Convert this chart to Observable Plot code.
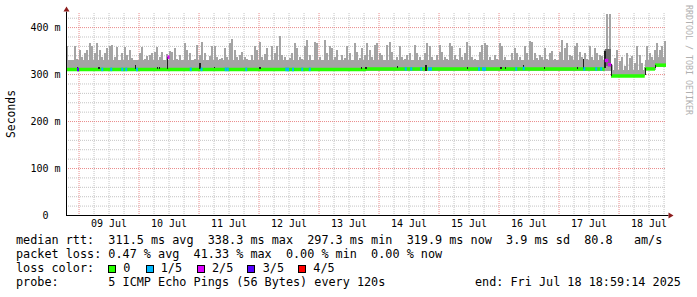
<!DOCTYPE html>
<html><head><meta charset="utf-8">
<script src="https://cdn.jsdelivr.net/npm/d3@7"></script>
<script src="https://cdn.jsdelivr.net/npm/@observablehq/plot@0.6"></script>
<style>
body{margin:0;background:#fff}
#wrap{position:relative;width:697px;height:297px;background:#fff;overflow:hidden;font-family:"DejaVu Sans Mono",monospace}
#chart{position:absolute;left:0;top:0}
.t{position:absolute;white-space:pre;font-size:11.8px;line-height:14px;color:#000}
.box{position:absolute;width:6px;height:6px;border:1px solid #000}
#ylab{position:absolute;left:11px;top:113.5px;transform:translate(-50%,-50%) rotate(-90deg);font-size:11.4px;white-space:pre}
#credit{position:absolute;left:684px;top:5px;writing-mode:vertical-rl;font-size:8.3px;color:#b0b0b0;white-space:pre}
</style></head>
<body><div id="wrap"><div id="chart"></div></div>
<script>
// ---- data ----
const startTime = "2025-07-08T18:59:14Z";
const endTime = "2025-07-18T18:59:14Z";
// hourly max of the ping smoke (ms)
const smokeMax = [
360,330,328,360,333,352,337,345,352,366,359,344,367,351,337,344,355,360,361,337,357,330,344,357,
340,351,334,326,330,344,358,332,338,340,344,348,357,337,348,329,342,350,348,355,333,340,329,366,
351,345,330,332,362,340,369,344,331,338,359,359,337,333,334,356,337,366,374,351,337,341,348,337,
333,330,340,359,352,369,336,342,355,331,359,345,360,381,340,336,329,334,345,366,355,337,332,359,
373,341,330,369,366,337,330,373,344,359,355,337,351,330,341,334,359,344,331,366,348,335,355,340,
366,351,337,362,366,345,341,330,362,369,348,330,337,359,337,332,341,344,331,362,344,337,330,345,
366,359,337,331,340,362,348,337,333,366,359,341,333,355,337,344,369,359,337,333,330,348,362,366,
362,337,330,340,333,366,359,337,331,328,344,355,345,337,331,359,344,371,369,345,335,341,337,355,
333,345,350,333,330,348,373,355,366,341,338,359,366,348,337,344,333,359,337,355,344,340,338,352,
428,428,320,334,351,327,337,318,344,334,339,323,359,340,323,316,359,345,337,352,366,351,359,371
];
// dense smoke band (runs: hour offset from start -> ms)
const smokeFloorStart = [0, 218, 231.5, 235.6];
const smokeFloorValue = [329, 309, 330, 336];
// smoke minimum (runs)
const smokeMinStart = [0, 218, 231.5, 235.6];
const smokeMinValue = [306, 296, 309, 316];
// median rtt (runs)
const medianStart = [0, 120, 215.5, 216.7, 218, 231.5, 235.6];
const medianValue = [311, 312, 330, 321, 297, 312, 320];
// darker smoke
const midSmokeStart = [215.4];
const midSmokeEnd = [218];
const midSmokeLow = [318];
const midSmokeHigh = [353];
// dense (black) smoke columns
const darkHour = [4.4,12.6,13.2,27.5,36.4,37.2,40.4,53.3,59.0,77.3,118.0,119.7,132.4,143.7,160.4,173.7,175.5,182.7,191.1,204.4,206.7,215.3,217.9,231.4,235.5];
const darkLow  = [309,310,310,310,311,311,310,311,312,311,310,311,312,306,311,311,311,312,311,311,310,312,296,297,312];
const darkHigh = [314,314,314,320,315,315,337,324,316,315,316,315,318,320,315,315,316,320,315,315,332,350,321,312,320];
// loss events on the median (hour offset, ms, lost pings of 5)
const lossHour  = [4.4,14.1,17.7,22.1,23.7,28,40.6,49.5,53.8,63.5,64.3,71.7,87.7,88.4,90.4,94.1,97.1,135.5,137.7,141.7,144.8,145.6,164.8,166.4,167.2,179.7,182.7,206.9,211.7,213.7,215.5,216.1,216.7,217.3];
const lossValue = [311,311,311,311,311,311,337,311,311,311,311,311,311,311,311,311,311,312,312,312,312,312,312,312,312,312,313,312,312,312,330,330,321,321];
const lossLevel = [3,1,1,1,1,1,2,1,1,1,1,1,1,1,1,1,1,1,1,1,1,1,1,1,1,1,1,1,1,1,2,2,2,2];
const lossColors = ["#26ff00","#00b8ff","#dd00ff","#5500ff","#ff0000"];
const lossLabels = ["0","1/5","2/5","3/5","4/5"];
const yTicks = [0,100,200,300,400];
const rttLine = "median rtt:  311.5 ms avg  338.3 ms max  297.3 ms min  319.9 ms now  3.9 ms sd  80.8   am/s";
const lossLine = "packet loss: 0.47 % avg  41.33 % max  0.00 % min  0.00 % now";
const colorLabel = "loss color:";
const probeLine = "probe:       5 ICMP Echo Pings (56 Bytes) every 120s";
const endText = "end: Fri Jul 18 18:59:14 2025";

// ---- build ----
const start = new Date(startTime), end = new Date(endTime);
const H = 3600e3;
const at = h => new Date(start.getTime() + h * H);
const runAt = (starts, vals, h) => { let v = vals[0]; starts.forEach((s, i) => { if (h >= s) v = vals[i]; }); return v; };

const floor = smokeFloorStart.map((h, i) => ({x1: at(h), x2: at(i + 1 < smokeFloorStart.length ? smokeFloorStart[i + 1] : 240), y1: smokeMinValue[i], y2: smokeFloorValue[i]}));
const spikes = smokeMax.map((v, i) => ({x1: at(i + 0.15), x2: at(i + 0.85), y1: runAt(smokeMinStart, smokeMinValue, i + 0.5), y2: v}));
const midSmoke = midSmokeStart.map((h, i) => ({x1: at(h), x2: at(midSmokeEnd[i]), y1: midSmokeLow[i], y2: midSmokeHigh[i]}));
const medianSegs = medianStart.map((h, i) => ({x1: at(h), x2: at(i + 1 < medianStart.length ? medianStart[i + 1] : 240), y: medianValue[i]}));
const dark = darkHour.map((h, i) => ({x1: at(h), x2: at(h + 0.5), y1: darkLow[i], y2: darkHigh[i]}));
const loss = lossHour.map((h, i) => ({x1: at(h), x2: at(h + 0.8), y: lossValue[i], c: lossColors[lossLevel[i]]}));

const yMinor = d3.range(20, 440, 20).filter(v => v % 100 !== 0);
const yMajor = d3.range(100, 500, 100);
const hours6 = d3.utcHour.every(6).range(start, end).filter(d => d.getUTCHours() !== 0);
const midnights = d3.utcDay.range(start, end);
const noons = midnights.map(d => d3.utcHour.offset(d, 12)).filter(d => d < end);

const grid = "#c4c4c4", mgrid = "#ea8c8c", smokeGray = "#a4a4a4";
const chart = Plot.plot({
  width: 697, height: 232,
  marginLeft: 66, marginRight: 31, marginTop: 13, marginBottom: 17,
  x: {type: "utc", domain: [start, end]},
  y: {domain: [0, 430]},
  color: {type: "identity"},
  style: {fontFamily: "DejaVu Sans Mono", fontSize: "10px", background: "transparent", color: "#000"},
  marks: [
    Plot.ruleY(yMinor, {stroke: grid, strokeDasharray: "1,1"}),
    Plot.ruleX(hours6, {stroke: grid, strokeDasharray: "1,1"}),
    Plot.ruleY(yMajor, {stroke: mgrid, strokeDasharray: "1,1"}),
    Plot.ruleX(midnights, {stroke: mgrid, strokeDasharray: "1,1"}),
    Plot.rect(floor, {x1: "x1", x2: "x2", y1: "y1", y2: "y2", fill: smokeGray, shapeRendering: "crispEdges"}),
    Plot.rect(spikes, {x1: "x1", x2: "x2", y1: "y1", y2: "y2", fill: smokeGray, shapeRendering: "crispEdges"}),
    Plot.rect(midSmoke, {x1: "x1", x2: "x2", y1: "y1", y2: "y2", fill: "#6e6e6e", shapeRendering: "crispEdges"}),
    Plot.ruleY(medianSegs, {y: "y", x1: "x1", x2: "x2", stroke: lossColors[0], strokeWidth: 3.5}),
    Plot.rect(dark, {x1: "x1", x2: "x2", y1: "y1", y2: "y2", fill: "#1e1e1e", shapeRendering: "crispEdges"}),
    Plot.ruleY(loss, {y: "y", x1: "x1", x2: "x2", stroke: "c", strokeWidth: 3.5}),
    Plot.ruleX([start], {y1: 0, y2: 433, stroke: "#000"}),
    Plot.ruleY([0], {x1: start, x2: at(241), stroke: "#000"}),
    Plot.axisX({ticks: noons, tickFormat: d3.utcFormat("%d %b"), tickSize: 0, tickPadding: 4, label: null}),
    Plot.axisY({ticks: yTicks, tickFormat: d => d === 0 ? "0\u00a0\u00a0" : d + " m", tickSize: 0, tickPadding: 6, label: null})
  ]
});
document.getElementById("chart").appendChild(chart);

// axis arrows placed through the chart's own scales
const sx = chart.scale("x"), sy = chart.scale("y");
const ax = sx.apply(start) + 0.5, ay = sy.apply(433);
const bx = sx.apply(at(241)), by = sy.apply(0) + 0.5;
const svg = d3.select(chart.tagName.toLowerCase() === "svg" ? chart : chart.querySelector("svg"));
svg.append("path").attr("fill", "#8c1c1c")
  .attr("d", `M${ax},${ay - 5}L${ax - 3},${ay}L${ax + 3},${ay}Z`);
svg.append("path").attr("fill", "#8c1c1c")
  .attr("d", `M${bx + 5},${by}L${bx},${by - 3}L${bx},${by + 3}Z`);

// ---- overlay texts ----
const wrap = document.getElementById("wrap");
function txt(x, top, s) { const e = document.createElement("div"); e.className = "t"; e.style.left = x + "px"; e.style.top = top + "px"; e.textContent = s; wrap.appendChild(e); return e; }
const ylab = document.createElement("div"); ylab.id = "ylab"; ylab.textContent = "Seconds"; wrap.appendChild(ylab);
const credit = document.createElement("div"); credit.id = "credit"; credit.textContent = "RRDTOOL / TOBI OETIKER"; wrap.appendChild(credit);

const rowTop = [233.3, 247.3, 261.3, 275.3];
txt(16, rowTop[0], rttLine);
txt(16, rowTop[1], lossLine);
txt(16, rowTop[2], colorLabel);
[108, 146, 196.7, 247.3, 297.7].forEach((x, i) => {
  const b = document.createElement("div"); b.className = "box"; b.style.left = x + "px"; b.style.top = "265px"; b.style.background = lossColors[i]; wrap.appendChild(b);
});
[123.3, 160.7, 212, 262.7, 313.3].forEach((x, i) => txt(x, rowTop[2], lossLabels[i]));
txt(16, rowTop[3], probeLine);
txt(475, rowTop[3], endText);
</script></body></html>
